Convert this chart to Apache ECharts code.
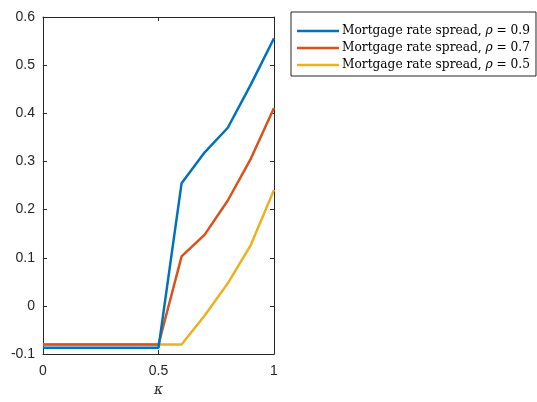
<!DOCTYPE html>
<html><head><meta charset="utf-8">
<script src="https://cdn.jsdelivr.net/npm/echarts@6/dist/echarts.min.js"></script>
<style>html,body{margin:0;padding:0;background:#fff}#c{width:537px;height:402px}</style>
</head><body><div id="c"></div>
<script>
const kappa = [0, 0.1, 0.2, 0.3, 0.4, 0.5, 0.6, 0.7, 0.8, 0.9, 1.0];
const rho09 = [-0.087, -0.087, -0.087, -0.087, -0.087, -0.087, 0.255, 0.319, 0.370, 0.460, 0.556];
const rho07 = [-0.080, -0.080, -0.080, -0.080, -0.080, -0.080, 0.103, 0.148, 0.219, 0.306, 0.411];
const rho05 = [-0.080, -0.080, -0.080, -0.080, -0.080, -0.080, -0.080, -0.020, 0.047, 0.127, 0.241];
const seriesNames = ['Mortgage rate spread, ρ = 0.9', 'Mortgage rate spread, ρ = 0.7', 'Mortgage rate spread, ρ = 0.5'];
const rhoVals = ['0.9', '0.7', '0.5'];
const colors = ['#0072BD', '#D95319', '#EDB120'];
const xTicks = [0, 0.5, 1];
const yTicks = [-0.1, 0, 0.1, 0.2, 0.3, 0.4, 0.5, 0.6];

const chart = echarts.init(document.getElementById('c'));
const pair = arr => kappa.map((k, i) => [k, arr[i]]);
const axisCommon = {
  axisLine: {show: true, onZero: false, lineStyle: {color: '#262626', width: 1}},
  axisTick: {show: true, inside: true, length: 4, lineStyle: {color: '#262626'}},
  splitLine: {show: false}
};
chart.setOption({
  animation: false,
  grid: {left: 43, top: 17, width: 231, height: 339, containLabel: false},
  legend: {
    orient: 'vertical', left: 291, top: 12,
    width: 245,
    padding: [13, 6, 5, 6],
    itemGap: 5,
    itemWidth: 42, itemHeight: 14,
    borderColor: '#262626', borderWidth: 1,
    icon: 'path://M0,6 L42,6 L42,8.5 L0,8.5 Z',
    data: seriesNames,
    formatter: function (name) {
      const i = seriesNames.indexOf(name);
      return '{t|Mortgage rate spread, }{r|ρ}{t| = ' + rhoVals[i] + '}';
    },
    textStyle: {
      fontFamily: 'DejaVu Serif', fontSize: 12, color: '#000', padding: [0, 0, 0, -2],
      rich: {
        t: {fontFamily: 'DejaVu Serif', fontSize: 12.2, color: '#000', height: 14},
        r: {fontFamily: 'DejaVu Serif', fontSize: 12.2, fontStyle: 'italic', color: '#000', height: 14}
      }
    }
  },
  xAxis: [{
    type: 'value', min: 0, max: 1, interval: 0.5, position: 'bottom',
    ...axisCommon,
    axisLabel: {color: '#262626', fontSize: 14, fontFamily: 'Liberation Sans', margin: 10,
      formatter: v => (xTicks.includes(+v.toFixed(2)) ? String(+v.toFixed(2)) : '')},
    name: 'κ', nameLocation: 'middle', nameGap: 25,
    nameTextStyle: {fontFamily: 'DejaVu Serif', fontStyle: 'italic', fontSize: 14, color: '#262626'}
  }, {
    type: 'value', min: 0, max: 1, interval: 0.5, position: 'top',
    ...axisCommon, axisLabel: {show: false}
  }],
  yAxis: [{
    type: 'value', min: -0.1, max: 0.6, interval: 0.1, position: 'left',
    ...axisCommon,
    axisLabel: {color: '#262626', fontSize: 14, fontFamily: 'Liberation Sans', margin: 8,
      formatter: v => { const r = Math.round(v * 10) / 10; return yTicks.includes(r) ? String(r) : ''; }}
  }, {
    type: 'value', min: -0.1, max: 0.6, interval: 0.1, position: 'right',
    ...axisCommon, axisLabel: {show: false}
  }],
  series: [rho09, rho07, rho05].map((arr, i) => ({
    name: seriesNames[i], type: 'line', data: pair(arr),
    xAxisIndex: 0, yAxisIndex: 0,
    symbol: 'none', lineStyle: {color: colors[i], width: 2.5}, itemStyle: {color: colors[i]},
    z: 3 - i
  }))
});
</script></body></html>
